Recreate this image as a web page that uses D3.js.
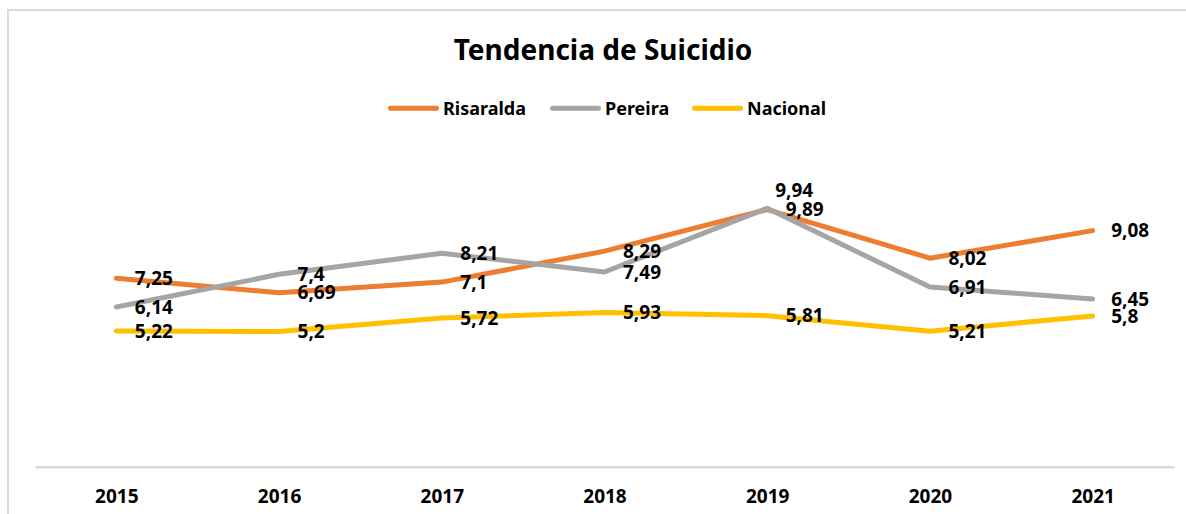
<!DOCTYPE html>
<html>
<head>
<meta charset="utf-8">
<script src="https://cdn.jsdelivr.net/npm/d3@7"></script>
<style>
  html, body { margin: 0; padding: 0; background: #fff; }
  svg { display: block; }
  text { font-family: "Noto Sans", "Open Sans", sans-serif; font-weight: bold; }
</style>
</head>
<body>
<svg id="chart" width="1186" height="514"></svg>
<script>
const years = ["2015", "2016", "2017", "2018", "2019", "2020", "2021"];
const risaralda = [7.25, 6.69, 7.1, 8.29, 9.89, 8.02, 9.08];
const pereira = [6.14, 7.4, 8.21, 7.49, 9.94, 6.91, 6.45];
const nacional = [5.22, 5.2, 5.72, 5.93, 5.81, 5.21, 5.8];
const seriesNames = ["Risaralda", "Pereira", "Nacional"];
const seriesColors = ["#ED7D31", "#A5A5A5", "#FFC000"];
const chartTitle = "Tendencia de Suicidio";

const series = [risaralda, pereira, nacional].map((vals, i) => ({
  name: seriesNames[i], color: seriesColors[i],
  values: vals.map((v, j) => ({ year: years[j], value: v }))
}));

// label placement overrides (default: right of point)
const labelAbove = { "Pereira|2019": true };

const svg = d3.select("#chart");

// outer chart border
svg.append("rect").attr("x", 8).attr("y", 10).attr("width", 1200).attr("height", 520)
  .attr("fill", "#fff").attr("stroke", "#D9D9D9").attr("stroke-width", 2);

const x = d3.scalePoint().domain(years).range([35, 1174]).padding(0.5);
const y = d3.scaleLinear().domain([0, 12]).range([466.7, 154.7]);

// title
svg.append("text").attr("x", 603).attr("y", 59.5).attr("text-anchor", "middle")
  .attr("font-size", 28).attr("fill", "#000").text(chartTitle);

// legend
const legendX = [388, 550, 692];
const leg = svg.append("g");
series.forEach((s, i) => {
  const g = leg.append("g").attr("transform", `translate(${legendX[i]},108.3)`);
  g.append("line").attr("x1", 2.5).attr("x2", 48.5).attr("y1", 0).attr("y2", 0)
    .attr("stroke", s.color).attr("stroke-width", 5).attr("stroke-linecap", "round");
  g.append("text").attr("x", 55).attr("y", 6.2).attr("font-size", 18).attr("fill", "#000").text(s.name);
});

// x axis
const xAxis = d3.axisBottom(x).tickSize(0).tickPadding(0);
const ax = svg.append("g").attr("transform", `translate(0,${y(0)})`).call(xAxis);
ax.select(".domain").attr("stroke", "#D9D9D9").attr("stroke-width", 2.5);
ax.selectAll(".tick text").attr("font-size", 19).attr("fill", "#000")
  .attr("font-family", "\"Noto Sans\", sans-serif").attr("font-weight", "bold")
  .attr("dy", 0).attr("y", 36.6);

// lines
const line = d3.line().x(d => x(d.year)).y(d => y(d.value));
series.forEach(s => {
  svg.append("path").datum(s.values).attr("d", line).attr("fill", "none")
    .attr("stroke", s.color).attr("stroke-width", 5)
    .attr("stroke-linecap", "round").attr("stroke-linejoin", "round");
});

// data labels
const fmt = v => String(v).replace(".", ",");
series.forEach(s => {
  s.values.forEach(d => {
    const above = labelAbove[s.name + "|" + d.year];
    svg.append("text")
      .attr("x", x(d.year) + (above ? 8 : 18.5))
      .attr("y", y(d.value) + (above ? -18 : 0))
      .attr("dy", "0.35em")
      .attr("font-size", 19).attr("fill", "#000")
      .text(fmt(d.value));
  });
});
</script>
</body>
</html>
